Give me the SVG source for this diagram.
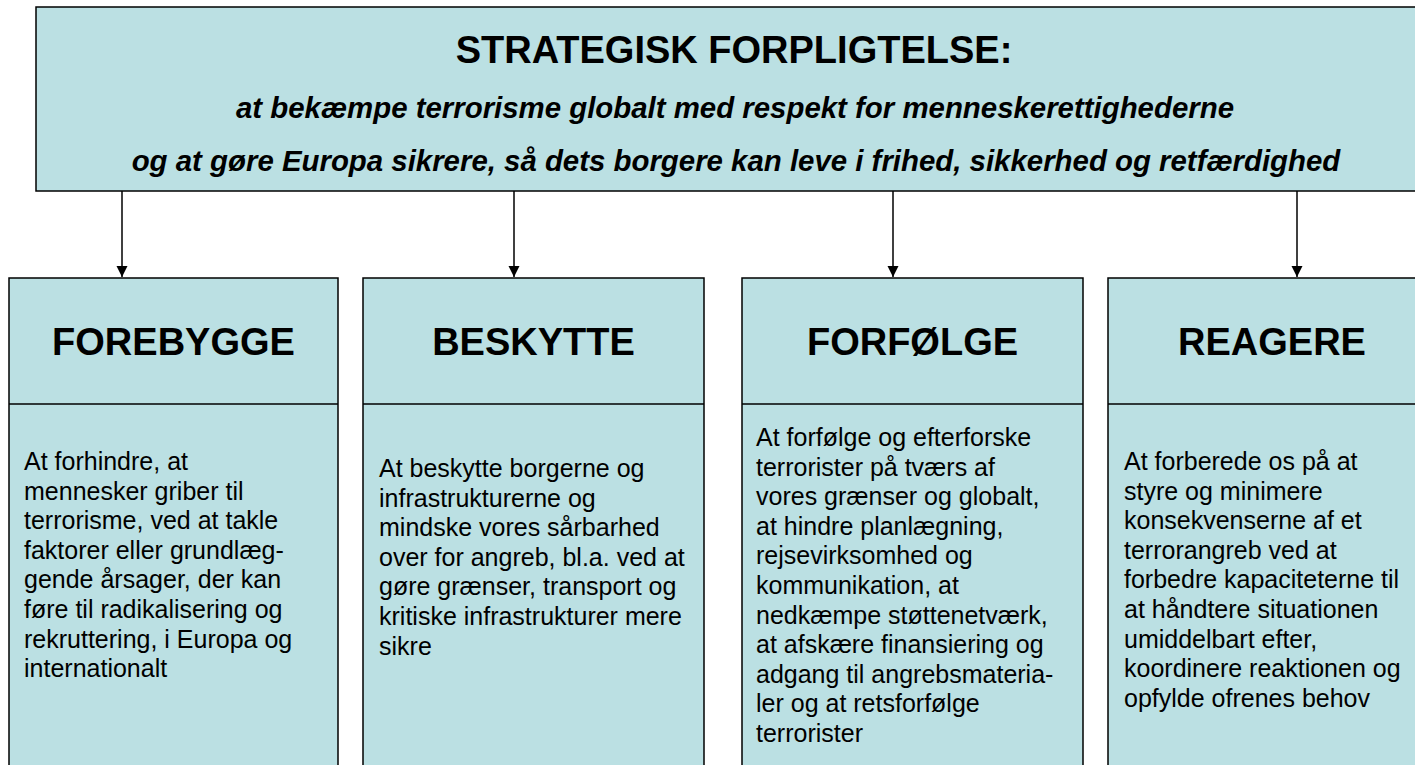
<svg xmlns="http://www.w3.org/2000/svg" width="1415" height="765" viewBox="0 0 1415 765">
<style>
.box{fill:#BBE0E3;stroke:#000;stroke-width:1.5}
.div{stroke:#000;stroke-width:1.5}
.title{font-family:"Liberation Sans",Arial,sans-serif;font-weight:bold;font-size:38px;fill:#000}
.sub{font-family:"Liberation Sans",Arial,sans-serif;font-weight:bold;font-style:italic;font-size:29.4px;fill:#000}
.head{font-family:"Liberation Sans",Arial,sans-serif;font-weight:bold;font-size:38px;fill:#000}
.body{font-family:"Liberation Sans",Arial,sans-serif;font-size:25px;fill:#000}
.conn{stroke:#000;stroke-width:1.5;fill:none;marker-end:url(#ah)}
</style>
<defs>
<marker id="ah" markerWidth="12" markerHeight="12" refX="11" refY="6" orient="auto" markerUnits="userSpaceOnUse">
<path d="M0,0.5 L11,6 L0,11.5 Z" fill="#000"/>
</marker>
</defs>
<rect width="1415" height="765" fill="#fff"/>
<g id="top">
<rect class="box" x="36" y="7" width="1400" height="184"/>
<text class="title" x="734" y="63" text-anchor="middle">STRATEGISK FORPLIGTELSE:</text>
<text class="sub" x="735" y="118" text-anchor="middle">at bekæmpe terrorisme globalt med respekt for menneskerettighederne</text>
<text class="sub" x="736" y="171" text-anchor="middle">og at gøre Europa sikrere, så dets borgere kan leve i frihed, sikkerhed og retfærdighed</text>
</g>
<g id="connectors">
<line class="conn" x1="122" y1="191" x2="122" y2="277"/>
<line class="conn" x1="514" y1="191" x2="514" y2="277"/>
<line class="conn" x1="893" y1="191" x2="893" y2="277"/>
<line class="conn" x1="1297" y1="191" x2="1297" y2="277"/>
</g>
<g id="forebygge">
<rect class="box" x="9" y="278" width="329" height="500"/>
<line class="div" x1="9" y1="404" x2="338" y2="404"/>
<text class="head" x="173.5" y="355" text-anchor="middle">FOREBYGGE</text>
<text class="body" x="24" y="470">
<tspan x="24">At forhindre, at</tspan>
<tspan x="24" dy="29.6">mennesker griber til</tspan>
<tspan x="24" dy="29.6">terrorisme, ved at takle</tspan>
<tspan x="24" dy="29.6">faktorer eller grundlæg-</tspan>
<tspan x="24" dy="29.6">gende årsager, der kan</tspan>
<tspan x="24" dy="29.6">føre til radikalisering og</tspan>
<tspan x="24" dy="29.6">rekruttering, i Europa og</tspan>
<tspan x="24" dy="29.6">internationalt</tspan>
</text>
</g>
<g id="beskytte">
<rect class="box" x="363" y="278" width="341" height="500"/>
<line class="div" x1="363" y1="404" x2="704" y2="404"/>
<text class="head" x="533.5" y="355" text-anchor="middle">BESKYTTE</text>
<text class="body" x="379" y="477">
<tspan x="379">At beskytte borgerne og</tspan>
<tspan x="379" dy="29.6">infrastrukturerne og</tspan>
<tspan x="379" dy="29.6">mindske vores sårbarhed</tspan>
<tspan x="379" dy="29.6">over for angreb, bl.a. ved at</tspan>
<tspan x="379" dy="29.6">gøre grænser, transport og</tspan>
<tspan x="379" dy="29.6">kritiske infrastrukturer mere</tspan>
<tspan x="379" dy="29.6">sikre</tspan>
</text>
</g>
<g id="forfoelge">
<rect class="box" x="742" y="278" width="341" height="500"/>
<line class="div" x1="742" y1="404" x2="1083" y2="404"/>
<text class="head" x="912.5" y="355" text-anchor="middle">FORFØLGE</text>
<text class="body" x="756" y="446">
<tspan x="756">At forfølge og efterforske</tspan>
<tspan x="756" dy="29.6">terrorister på tværs af</tspan>
<tspan x="756" dy="29.6">vores grænser og globalt,</tspan>
<tspan x="756" dy="29.6">at hindre planlægning,</tspan>
<tspan x="756" dy="29.6">rejsevirksomhed og</tspan>
<tspan x="756" dy="29.6">kommunikation, at</tspan>
<tspan x="756" dy="29.6">nedkæmpe støttenetværk,</tspan>
<tspan x="756" dy="29.6">at afskære finansiering og</tspan>
<tspan x="756" dy="29.6">adgang til angrebsmateria-</tspan>
<tspan x="756" dy="29.6">ler og at retsforfølge</tspan>
<tspan x="756" dy="29.6">terrorister</tspan>
</text>
</g>
<g id="reagere">
<rect class="box" x="1108" y="278" width="328" height="500"/>
<line class="div" x1="1108" y1="404" x2="1436" y2="404"/>
<text class="head" x="1272" y="355" text-anchor="middle">REAGERE</text>
<text class="body" x="1124" y="470">
<tspan x="1124">At forberede os på at</tspan>
<tspan x="1124" dy="29.6">styre og minimere</tspan>
<tspan x="1124" dy="29.6">konsekvenserne af et</tspan>
<tspan x="1124" dy="29.6">terrorangreb ved at</tspan>
<tspan x="1124" dy="29.6">forbedre kapaciteterne til</tspan>
<tspan x="1124" dy="29.6">at håndtere situationen</tspan>
<tspan x="1124" dy="29.6">umiddelbart efter,</tspan>
<tspan x="1124" dy="29.6">koordinere reaktionen og</tspan>
<tspan x="1124" dy="29.6">opfylde ofrenes behov</tspan>
</text>
</g>
</svg>
